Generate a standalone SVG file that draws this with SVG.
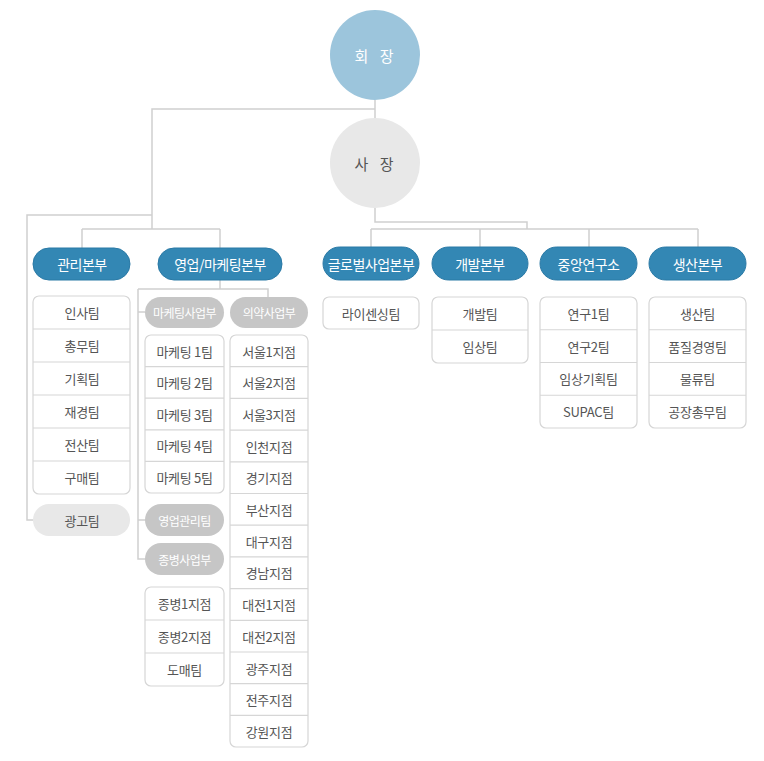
<svg xmlns="http://www.w3.org/2000/svg" width="764" height="761" viewBox="0 0 764 761">
<style>
text{font-family:"Noto Sans CJK KR","Noto Sans",sans-serif;text-anchor:middle;dominant-baseline:central}
.pill{fill:#3387b4;stroke:#2b7aa6;stroke-width:1}
.pt{fill:#fff;font-size:14px;letter-spacing:-0.5px}
.gp{fill:#c6c6c6}
.gt{fill:#fff;font-size:12px;letter-spacing:-0.5px}
.box{fill:#fff;stroke:#d6d6d6;stroke-width:1.2}
.sep{stroke:#d6d6d6;stroke-width:1.2}
.it{fill:#555;font-size:13px;letter-spacing:-0.3px}
.ln{fill:none;stroke:#d0d0d0;stroke-width:1.5}
</style>
<rect width="764" height="761" fill="#fff"/>
<g id="connectors">
<path class="ln" d="M375,100V118 M375,109H152V229 M152,215H27V520H33 M82,229H220 M82,229V248 M220,229V248"/>
<path class="ln" d="M375,208V222H527V229 M371,229H698 M371,229V247 M480,229V247 M589,229V247 M698,229V247"/>
<path class="ln" d="M220,280V289 M138,289H268V297 M138,289V559H145 M138,312H145 M138,520H145"/>
</g>
<g id="chairman"><circle cx="375" cy="55" r="45" fill="#9cc5dc"/><text x="376" y="55" fill="#fff" font-size="15" letter-spacing="4">회 장</text></g>
<g id="president"><circle cx="375" cy="163" r="45" fill="#e8e8e8"/><text x="376" y="163" fill="#555" font-size="15" letter-spacing="4">사 장</text></g>

<g id="mgmt"><rect class="pill" x="33" y="248" width="97" height="32" rx="16"/><text class="pt" x="82" y="264">관리본부</text></g>
<g id="mgmt-teams">
<rect class="box" x="33" y="296" width="97" height="198" rx="6"/>
<path class="sep" d="M33,329H130M33,362H130M33,395H130M33,428H130M33,461H130"/>
<text class="it" x="82" y="312.5">인사팀</text>
<text class="it" x="82" y="345.5">총무팀</text>
<text class="it" x="82" y="378.5">기획팀</text>
<text class="it" x="82" y="411.5">재경팀</text>
<text class="it" x="82" y="444.5">전산팀</text>
<text class="it" x="82" y="477.5">구매팀</text>
</g>
<g id="ad"><rect x="33" y="504" width="97" height="32" rx="16" fill="#e8e8e8"/><text class="it" x="82" y="520">광고팀</text></g>

<g id="sales"><rect class="pill" x="158" y="248" width="124" height="32" rx="16"/><text class="pt" x="220" y="264">영업/마케팅본부</text></g>
<g id="mkt"><rect class="gp" x="145" y="297" width="79" height="31" rx="15.5"/><text class="gt" x="184.5" y="312.5">마케팅사업부</text></g>
<g id="mkt-teams">
<rect class="box" x="145" y="335" width="79" height="158" rx="6"/>
<path class="sep" d="M145,366.6H224M145,398.2H224M145,429.8H224M145,461.4H224"/>
<text class="it" x="184.5" y="351">마케팅 1팀</text>
<text class="it" x="184.5" y="382.6">마케팅 2팀</text>
<text class="it" x="184.5" y="414.2">마케팅 3팀</text>
<text class="it" x="184.5" y="445.8">마케팅 4팀</text>
<text class="it" x="184.5" y="477.4">마케팅 5팀</text>
</g>
<g id="salesmgmt"><rect class="gp" x="145" y="504" width="79" height="32" rx="16"/><text class="gt" x="184.5" y="520">영업관리팀</text></g>
<g id="hosp"><rect class="gp" x="145" y="543" width="79" height="32" rx="16"/><text class="gt" x="184.5" y="559">종병사업부</text></g>
<g id="hosp-teams">
<rect class="box" x="145" y="587" width="79" height="99" rx="6"/>
<path class="sep" d="M145,620H224M145,653H224"/>
<text class="it" x="184.5" y="603.5">종병1지점</text>
<text class="it" x="184.5" y="636.5">종병2지점</text>
<text class="it" x="184.5" y="669.5">도매팀</text>
</g>
<g id="pharma"><rect class="gp" x="230" y="297" width="78" height="31" rx="15.5"/><text class="gt" x="269" y="312.5">의약사업부</text></g>
<g id="pharma-branches">
<rect class="box" x="230" y="335" width="78" height="412" rx="6"/>
<path class="sep" d="M230,366.7H308M230,398.4H308M230,430.1H308M230,461.8H308M230,493.5H308M230,525.2H308M230,556.9H308M230,588.6H308M230,620.3H308M230,652H308M230,683.7H308M230,715.4H308"/>
<text class="it" x="269" y="351">서울1지점</text>
<text class="it" x="269" y="382.7">서울2지점</text>
<text class="it" x="269" y="414.4">서울3지점</text>
<text class="it" x="269" y="446.1">인천지점</text>
<text class="it" x="269" y="477.8">경기지점</text>
<text class="it" x="269" y="509.5">부산지점</text>
<text class="it" x="269" y="541.2">대구지점</text>
<text class="it" x="269" y="572.9">경남지점</text>
<text class="it" x="269" y="604.6">대전1지점</text>
<text class="it" x="269" y="636.3">대전2지점</text>
<text class="it" x="269" y="668">광주지점</text>
<text class="it" x="269" y="699.7">전주지점</text>
<text class="it" x="269" y="731.4">강원지점</text>
</g>

<g id="global"><rect class="pill" x="323" y="247" width="96" height="33" rx="16.5"/><text class="pt" x="371" y="263.5" font-size="13.5">글로벌사업본부</text></g>
<g id="global-teams"><rect class="box" x="323" y="297" width="96" height="32" rx="6"/><text class="it" x="371" y="313">라이센싱팀</text></g>

<g id="dev"><rect class="pill" x="432" y="247" width="96" height="33" rx="16.5"/><text class="pt" x="480" y="263.5">개발본부</text></g>
<g id="dev-teams">
<rect class="box" x="432" y="297" width="96" height="66" rx="6"/>
<path class="sep" d="M432,330H528"/>
<text class="it" x="480" y="313.5">개발팀</text>
<text class="it" x="480" y="346.5">임상팀</text>
</g>

<g id="research"><rect class="pill" x="540" y="247" width="97" height="33" rx="16.5"/><text class="pt" x="588.5" y="263.5">중앙연구소</text></g>
<g id="research-teams">
<rect class="box" x="540" y="297" width="97" height="131" rx="6"/>
<path class="sep" d="M540,329.75H637M540,362.5H637M540,395.25H637"/>
<text class="it" x="588.5" y="313.4">연구1팀</text>
<text class="it" x="588.5" y="346.1">연구2팀</text>
<text class="it" x="588.5" y="378.9">임상기획팀</text>
<text class="it" x="588.5" y="411.6">SUPAC팀</text>
</g>

<g id="prod"><rect class="pill" x="649" y="247" width="97" height="33" rx="16.5"/><text class="pt" x="697.5" y="263.5">생산본부</text></g>
<g id="prod-teams">
<rect class="box" x="649" y="297" width="97" height="131" rx="6"/>
<path class="sep" d="M649,329.75H746M649,362.5H746M649,395.25H746"/>
<text class="it" x="697.5" y="313.4">생산팀</text>
<text class="it" x="697.5" y="346.1">품질경영팀</text>
<text class="it" x="697.5" y="378.9">물류팀</text>
<text class="it" x="697.5" y="411.6">공장총무팀</text>
</g>
</svg>
